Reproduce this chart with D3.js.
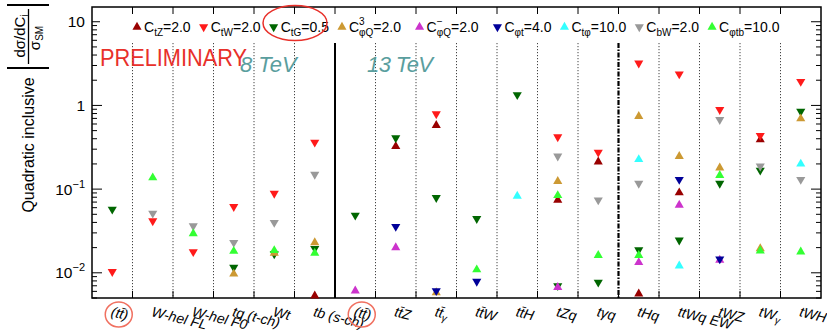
<!DOCTYPE html>
<html><head><meta charset="utf-8">
<script src="https://cdn.jsdelivr.net/npm/d3@7"></script>
<style>body{margin:0;background:#fff;} svg{display:block;font-family:"Liberation Sans",Arial,sans-serif;}</style>
</head><body><svg id="c" width="827" height="331"></svg>
<script>
// ---------------- data ----------------
const categories = ["(tt̄)","W-hel FL","W-hel F0","tq (t-ch)","Wt","tb (s-ch)","(tt̄)","tt̄Z","tt̄_γ","tt̄W","tt̄H","tZq","tγq","tHq","ttWq EW","tWZ","tW_γ","tWH"];
const circledCats = [0, 6];
const energyBreak = 6;   // solid line between 8 TeV and 13 TeV
const groupBreak = 13;   // dash-dot line
const yTickDecades = [0.01, 0.1, 1, 10];

const seriesSub   = ["tZ","tW","tG","φQ","φQ","φt","tφ","bW","φtb"];
const seriesSup   = [null,null,null,"3","−",null,null,null,null];
const seriesVal   = ["2.0","2.0","0.5","2.0","2.0","4.0","10.0","2.0","10.0"];
const seriesColor = ["#990000","#ff1a1a","#006600","#cc9933","#cc33cc","#000099","#33ffff","#999999","#33ff33"];
const seriesDown  = [false,true,true,false,false,true,false,true,false];

const _ = null;
//                 tt8    FL     F0     tq      Wt     tb     tt13   ttZ    tta    ttW    ttH    tZq    taq    tHq    ttWq   tWZ    tWa    tWH
const C_tZ   = [   _,     _,     _,     _,      _,     0.0053,_,     0.325, 0.578, _,     _,     0.074, 0.212, 0.0056,0.0906,_,     0.39,  _    ];
const C_tW   = [   0.0103,0.0416,0.0178,0.0617, 0.0889,0.363, _,     _,     0.79,  _,     _,     0.42,  0.275, 3.2,   2.37,  0.889, 0.436, 1.93 ];
const C_tG   = [   0.0573,_,     _,     0.0116, 0.0168,0.0195,0.0486,0.409, 0.079, 0.0444,1.34,  0.007, 0.0077,0.0188,0.0245,0.117, 0.168, 0.849];
const C_phiQ3= [   _,     _,     _,     0.0097, 0.0172,0.023, _,     _,     0.0058,_,     _,     0.124, _,     0.74,  0.247, 0.18,  0.0195,0.695];
const C_phiQm= [   _,     _,     _,     _,      _,     _,     0.0061,0.02,  _,     _,     _,     0.0067,_,     0.0133,0.0645,0.0142,_,     _    ];
const C_phit = [   _,     _,     _,     _,      _,     _,     _,     0.0357,0.0061,0.0079,_,     _,     _,     _,     0.13,  0.0146,_,     _    ];
const C_tphi = [   _,     _,     _,     _,      _,     _,     _,     _,     _,     _,     0.0826,_,     _,     0.226, 0.0121,_,     _,     0.2  ];
const C_bW   = [   _,     0.0514,0.0363,0.023,  0.0398,0.15,  _,     _,     _,     _,     _,     0.247, 0.074, 0.117, _,     0.676, 0.188, 0.13 ];
const C_phitb= [   _,     0.137, 0.0294,0.0181, 0.0185,0.0172,_,     _,     _,     0.0109,_,     0.084, 0.0162,0.0162,_,     0.146, 0.0183,0.0178];
const seriesData = [C_tZ, C_tW, C_tG, C_phiQ3, C_phiQm, C_phit, C_tphi, C_bW, C_phitb];

// ---------------- layout ----------------
const M = {l:92, r:821, t:7, b:298};
const svg = d3.select("#c");
const x = d3.scaleBand().domain(d3.range(categories.length)).range([M.l, M.r]).padding(0);
const bw = x.bandwidth();
const y = d3.scaleLog().domain([0.005, 15]).range([M.b, M.t]);

// separators
const seps = d3.range(1, categories.length);
svg.append("g").selectAll("line").data(seps).join("line")
  .attr("x1", i => x(i)).attr("x2", i => x(i))
  .attr("y1", 43).attr("y2", M.b)
  .attr("stroke", i => (i === energyBreak || i === groupBreak) ? "#000" : "#444")
  .attr("stroke-width", i => i === energyBreak ? 2 : (i === groupBreak ? 2.2 : 1))
  .attr("stroke-dasharray", i => i === energyBreak ? null : (i === groupBreak ? "5,1.5,1.5,1.5" : "1.2,1.8"));

// top / bottom ticks at category boundaries
const tk = svg.append("g").attr("stroke", "#000").attr("stroke-width", 1);
seps.forEach(i => {
  tk.append("line").attr("x1", x(i)).attr("x2", x(i)).attr("y1", M.t).attr("y2", M.t + 7);
  tk.append("line").attr("x1", x(i)).attr("x2", x(i)).attr("y1", M.b).attr("y2", M.b - 7);
});

// y ticks (left + right)
const yt = y.ticks();
const isMajor = v => Math.abs(Math.log10(v) - Math.round(Math.log10(v))) < 1e-6;
yt.forEach(v => {
  const L = isMajor(v) ? 10 : 5;
  tk.append("line").attr("x1", M.l).attr("x2", M.l + L).attr("y1", y(v)).attr("y2", y(v));
  tk.append("line").attr("x1", M.r).attr("x2", M.r - L).attr("y1", y(v)).attr("y2", y(v));
});

// y tick labels
yTickDecades.forEach(v => {
  const e = Math.round(Math.log10(v));
  const t = svg.append("text").attr("x", 85).attr("y", y(v) + 5.5)
    .attr("text-anchor", "end").attr("font-size", 15.5).attr("fill", "#000");
  if (e === 0) t.text("1");
  else if (e === 1) t.text("10");
  else {
    t.append("tspan").text("10");
    t.append("tspan").attr("dy", -7).attr("font-size", 11).text("−" + (-e));
  }
});

// legend box (white, covers lines)
svg.append("rect").attr("x", 100).attr("y", 14).attr("width", 672).attr("height", 29).attr("fill", "#fff");

// frame
svg.append("rect").attr("x", M.l).attr("y", M.t).attr("width", M.r - M.l).attr("height", M.b - M.t)
  .attr("fill", "none").attr("stroke", "#000").attr("stroke-width", 1.5);

// annotations
svg.append("text").attr("x", 100).attr("y", 66).attr("font-size", 24).attr("fill", "#e8302a")
  .attr("textLength", 147).attr("lengthAdjust", "spacingAndGlyphs").text("PRELIMINARY");
svg.append("text").attr("x", 240).attr("y", 72).attr("font-size", 22).attr("font-style", "italic")
  .attr("fill", "#5a9e9e").text("8 TeV");
svg.append("text").attr("x", 367).attr("y", 72).attr("font-size", 22).attr("font-style", "italic")
  .attr("fill", "#5a9e9e").attr("textLength", 66).text("13 TeV");

// markers
const tri = d3.symbol(d3.symbolTriangle, 36)();
seriesData.forEach((arr, s) => {
  svg.append("g").selectAll("path")
    .data(arr.map((v, i) => ({v, i})).filter(d => d.v != null))
    .join("path")
    .attr("d", tri)
    .attr("fill", seriesColor[s])
    .attr("transform", d => `translate(${x(d.i) + bw / 2},${y(d.v)}) rotate(${seriesDown[s] ? 180 : 0})`);
});

// legend entries
let lx = 137;
seriesSub.forEach((sub, s) => {
  svg.append("path").attr("d", tri).attr("fill", seriesColor[s])
    .attr("transform", `translate(${lx},27) rotate(${seriesDown[s] ? 180 : 0})`);
  const t = svg.append("text").attr("x", lx + 7).attr("y", 32).attr("font-size", 14).attr("fill", "#000");
  t.append("tspan").text("C");
  if (seriesSup[s]) {
    t.append("tspan").attr("dy", -7).attr("font-size", 10).text(seriesSup[s]);
    t.append("tspan").attr("dx", seriesSup[s] === "3" ? -5.6 : -5.8).attr("dy", 11).attr("font-size", 10).text(sub);
  } else {
    t.append("tspan").attr("dy", 4).attr("font-size", 10).text(sub);
  }
  t.append("tspan").attr("dy", -4).text("=" + seriesVal[s]);
  const w = t.node().getComputedTextLength();
  lx = lx + 7 + w + 13;
});

// red ellipse around C_tG legend entry
svg.append("ellipse").attr("cx", 295).attr("cy", 23).attr("rx", 32).attr("ry", 17.5)
  .attr("fill", "none").attr("stroke", "#e8302a").attr("stroke-width", 1.5);

// x labels
categories.forEach((c, i) => {
  const g = svg.append("text")
    .attr("transform", `translate(${x(i) + bw / 2 - 2},316) rotate(14)`)
    .attr("font-size", 14).attr("font-style", "italic").attr("fill", "#000");
  const parts = c.split("_");
  g.append("tspan").text(parts[0]);
  if (parts[1]) g.append("tspan").attr("dy", 3).attr("font-size", 10).text(parts[1]);
});
circledCats.forEach(i => {
  svg.append("ellipse").attr("cx", x(i) + bw / 2 + 6.5).attr("cy", 314.5).attr("rx", 13.5).attr("ry", 12.5)
    .attr("fill", "none").attr("stroke", "#f07060").attr("stroke-width", 1.5);
});

// y-axis title
svg.append("text").attr("transform", "translate(34,145) rotate(-90)").attr("text-anchor", "middle")
  .attr("font-size", 16).attr("fill", "#000").text("Quadratic inclusive");
const num = svg.append("text").attr("transform", "translate(25,36) rotate(-90)").attr("text-anchor", "middle")
  .attr("font-size", 15).attr("fill", "#000");
num.append("tspan").text("dσ/dC");
num.append("tspan").attr("dy", 3).attr("font-size", 10).text("i");
const den = svg.append("text").attr("transform", "translate(40,38) rotate(-90)").attr("text-anchor", "middle")
  .attr("font-size", 15).attr("fill", "#000");
den.append("tspan").text("σ");
den.append("tspan").attr("dy", 3).attr("font-size", 10).text("SM");
const ln = svg.append("g").attr("stroke", "#000");
ln.append("line").attr("x1", 28.5).attr("x2", 28.5).attr("y1", 9).attr("y2", 64).attr("stroke-width", 1.3);
ln.append("line").attr("x1", 7).attr("x2", 49).attr("y1", 5).attr("y2", 5).attr("stroke-width", 2);
ln.append("line").attr("x1", 7).attr("x2", 49).attr("y1", 68).attr("y2", 68).attr("stroke-width", 2);
</script></body></html>
